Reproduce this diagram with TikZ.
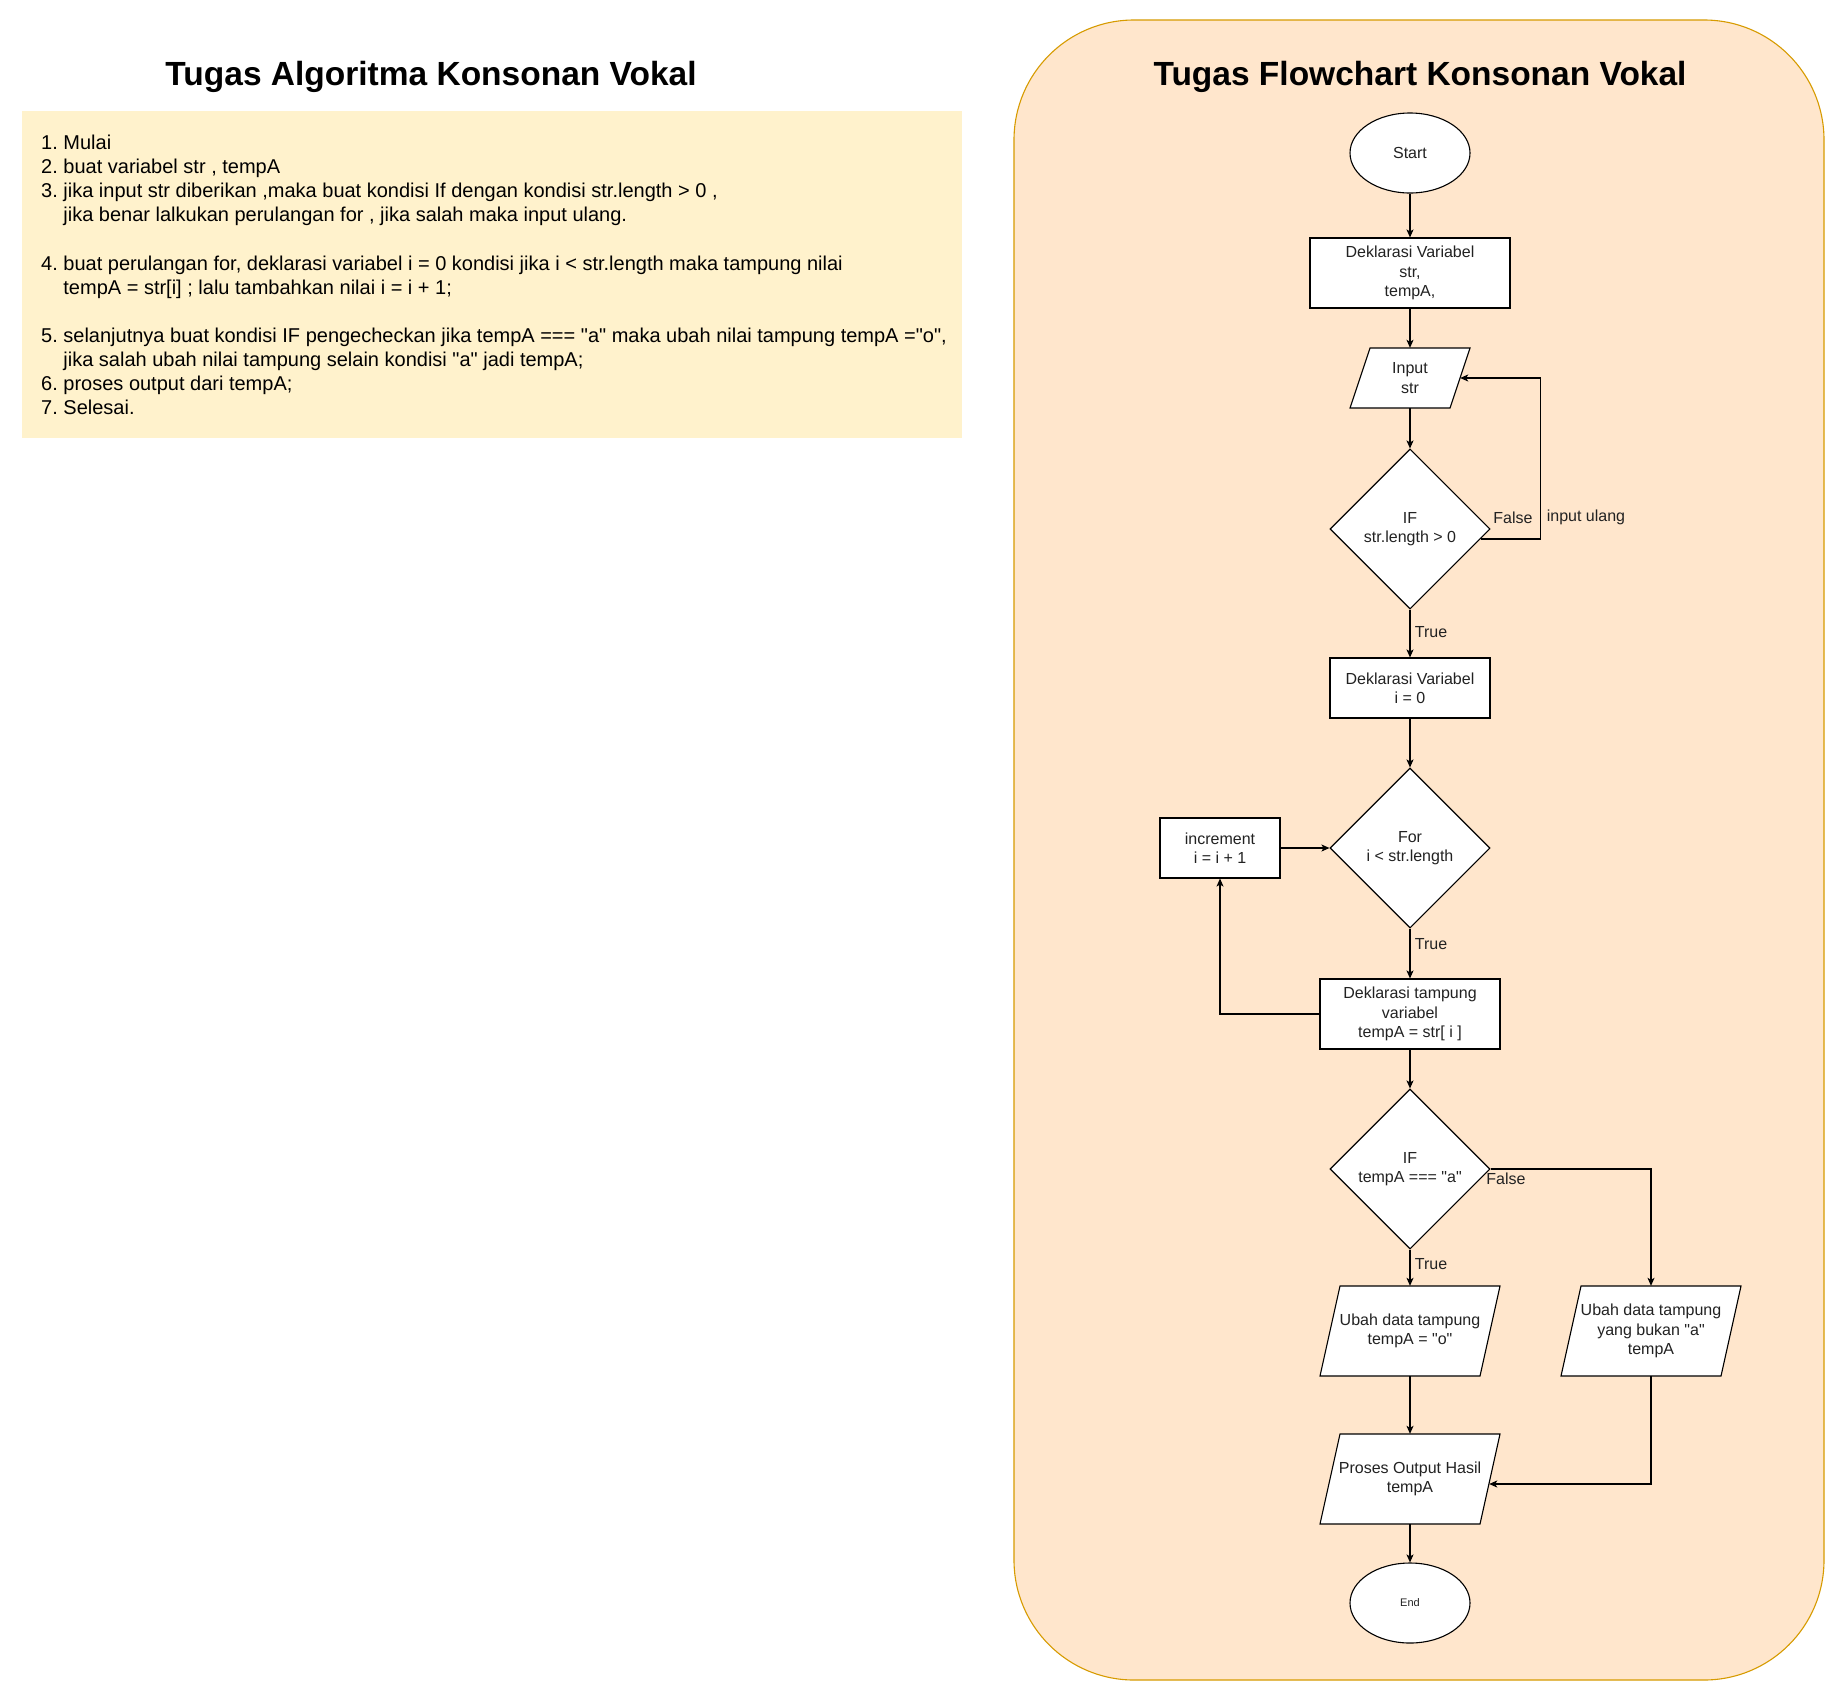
\documentclass[tikz,border=0pt]{standalone}
\usepackage{fontspec}
\setmainfont{Liberation Sans}[Ligatures=TeXOff]
\usetikzlibrary{shapes.geometric,arrows.meta,calc}
\definecolor{panelfill}{HTML}{FFE6CC}
\definecolor{paneldraw}{HTML}{D79B00}
\definecolor{notefill}{HTML}{FFF2CC}
\definecolor{txt}{HTML}{222222}
\frenchspacing
\newcommand{\pgram}[6]{%
  \draw[shp] ({#2-#4/2+20},{#3-#5/2}) -- ({#2+#4/2},{#3-#5/2}) -- ({#2+#4/2-20},{#3+#5/2}) -- ({#2-#4/2},{#3+#5/2}) -- cycle;
  \node[fc, rectangle, minimum width=#4-20, minimum height=#5, inner sep=0pt] (#1) at (#2,#3) {#6};}
\begin{document}
\begin{tikzpicture}[x=1pt,y=-1pt,
  fc/.style={font=\fontsize{16}{19.2}\selectfont, text=txt, align=center},
  shp/.style={draw=black, fill=white, line width=1.1pt},
  box/.style={fc, shp, rectangle, inner sep=0pt},
  oval/.style={fc, shp, ellipse, inner sep=0pt, minimum width=120, minimum height=80},
  dia/.style={fc, shp, diamond, inner sep=0pt, minimum width=160, minimum height=160},
  conn/.style={line width=1.1pt, draw=black, -{Stealth[length=8pt,width=7pt,inset=2pt]}},
  lbl/.style={font=\fontsize{16}{19.2}\selectfont, text=txt, inner sep=0pt},
  ltxt/.style={font=\fontsize{20}{24}\selectfont, text=black, anchor=base west, inner sep=0pt},
  ttl/.style={font=\fontsize{33.5}{40}\selectfont\bfseries, text=black, anchor=base, inner sep=0pt}
]
\useasboundingbox[fill=white] (0,0) rectangle (1845,1701);

% ---------- left: algorithm ----------
\node[ttl] (ltitle) at (431,85) {Tugas Algoritma Konsonan Vokal};
\fill[notefill] (22,111) rectangle (962,438);
\node[ltxt] (l1) at (41,149.5) {1. Mulai};
\node[ltxt] (l2) at (41,173.6) {2. buat variabel str , tempA};
\node[ltxt] (l3) at (41,197.7) {3. jika input str diberikan ,maka buat kondisi If dengan kondisi str.length > 0 ,};
\node[ltxt] (l3b) at (41,221.8) {\hphantom{3. }jika benar lalkukan perulangan for , jika salah maka input ulang.};
\node[ltxt] (l4) at (41,270) {4. buat perulangan for, deklarasi variabel i = 0 kondisi jika i < str.length maka tampung nilai};
\node[ltxt] (l4b) at (41,294.1) {\hphantom{4. }tempA = str[i] ; lalu tambahkan nilai i = i + 1;};
\node[ltxt] (l5) at (41,342.3) {5. selanjutnya buat kondisi IF pengecheckan jika tempA === "a" maka ubah nilai tampung tempA ="o",};
\node[ltxt] (l5b) at (41,366.4) {\hphantom{5. }jika salah ubah nilai tampung selain kondisi "a" jadi tempA;};
\node[ltxt] (l6) at (41,390.5) {6. proses output dari tempA;};
\node[ltxt] (l7) at (41,414.6) {7. Selesai.};

% ---------- right: flowchart panel ----------
\draw[fill=panelfill, draw=paneldraw, line width=1.1pt, rounded corners=120] (1014,20) rectangle (1824,1680);
\node[ttl] (rtitle) at (1420,85) {Tugas Flowchart Konsonan Vokal};

\node[oval] (start) at (1410,153) {Start};
\node[box, minimum width=200, minimum height=70] (dv1) at (1410,273) {Deklarasi Variabel\\str,\\tempA,};
\pgram{inp}{1410}{378}{120}{60}{Input\\str}
\node[dia] (if1) at (1410,529) {IF\\str.length > 0};
\node[box, minimum width=160, minimum height=60] (dv2) at (1410,688) {Deklarasi Variabel\\i = 0};
\node[dia] (for) at (1410,848) {For\\i < str.length};
\node[box, minimum width=120, minimum height=60] (inc) at (1220,848) {increment\\i = i + 1};
\node[box, minimum width=180, minimum height=70] (dt) at (1410,1014) {Deklarasi tampung\\variabel\\tempA = str[ i ]};
\node[dia] (if2) at (1410,1169) {IF\\tempA === "a"};
\pgram{ub1}{1410}{1331}{180}{90}{Ubah data tampung\\tempA = "o"}
\pgram{ub2}{1651}{1331}{180}{90}{Ubah data tampung\\yang bukan "a"\\tempA}
\pgram{po}{1410}{1479}{180}{90}{Proses Output Hasil\\tempA}
\node[oval, font=\fontsize{11}{13}\selectfont] (end) at (1410,1603) {End};

% connectors
\draw[conn] (start) -- (dv1);
\draw[conn] (dv1) -- (inp);
\draw[conn] (inp) -- (if1);
\coordinate (f1) at ($(if1.east)+(-10,10)$);
\draw[conn] (f1) -- ++(60,0) |- (inp.east);
\draw[conn] (if1) -- (dv2);
\draw[conn] (dv2) -- (for);
\draw[conn] (for) -- (dt);
\draw[conn] (dt.west) -| (inc.south);
\draw[conn] (inc.east) -- (for.west);
\draw[conn] (dt) -- (if2);
\draw[conn] (if2) -- (ub1);
\draw[conn] (if2.east) -| (ub2.north);
\draw[conn] (ub1) -- (po);
\coordinate (poin) at ($(po.east)+(-1,5)$);
\draw[conn] (ub2.south) |- (poin);
\draw[conn] (po) -- (end);

% labels
\node[lbl] (lf1) at (1513,518) {False};
\node[lbl] (lin) at (1586,517) {input ulang};
\node[lbl] (lt1) at (1431,632) {True};
\node[lbl] (lt2) at (1431,944) {True};
\node[lbl] (lt3) at (1431,1264) {True};
\node[lbl] (lf2) at (1506,1179) {False};
\end{tikzpicture}
\end{document}
